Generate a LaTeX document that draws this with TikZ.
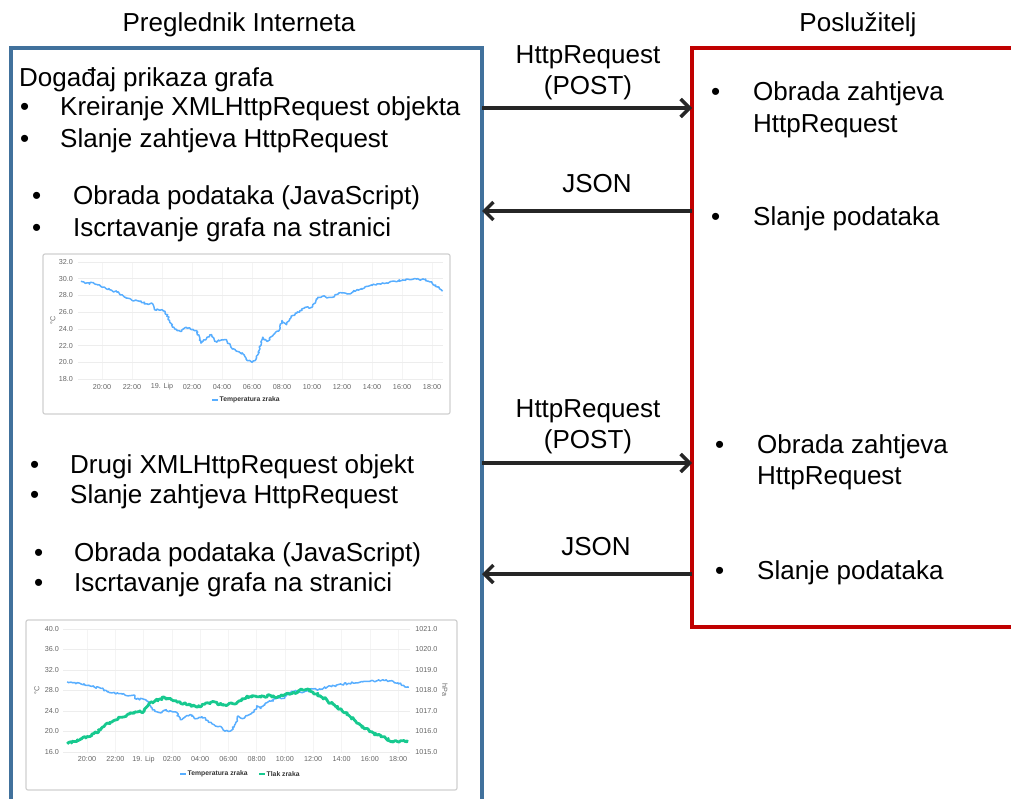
\documentclass[tikz,border=0pt]{standalone}
\usepackage{fontspec}
\setmainfont{Liberation Sans}
\usetikzlibrary{arrows.meta,decorations.pathmorphing}
\definecolor{boxblue}{HTML}{41719C}
\definecolor{boxred}{HTML}{C00000}
\definecolor{arrowc}{HTML}{262626}
\definecolor{tblue}{HTML}{58AEFF}
\definecolor{pgreen}{HTML}{17C98F}
\definecolor{gridc}{HTML}{EDEDED}
\definecolor{vgridc}{HTML}{F4F4F4}
\definecolor{ticklab}{HTML}{666666}
\definecolor{leglab}{HTML}{333333}
\definecolor{framec}{HTML}{D0D0D0}
\begin{document}
\begin{tikzpicture}[x=1pt,y=-1pt,
  big/.style={font=\fontsize{26}{31}\selectfont, inner sep=0pt, anchor=base west},
  head/.style={font=\fontsize{26}{31}\selectfont, inner sep=0pt, anchor=base},
  flow/.style={line width=3.5pt, draw=arrowc, -{Straight Barb[length=9pt,width=18pt]}},
  tick/.style={font=\fontsize{7.2}{8}\selectfont, text=ticklab, inner sep=0pt},
  legtext/.style={font=\bfseries\fontsize{6.8}{8}\selectfont, text=leglab, inner sep=0pt, anchor=west},
  chartframe/.style={draw=framec, line width=1.2pt, rounded corners=2pt},
  tline/.style={draw=tblue, line width=1.5pt, line join=round, decorate, decoration={random steps, segment length=1.4pt, amplitude=1.0pt}},
  pline/.style={draw=pgreen, line width=2.8pt, line join=round, decorate, decoration={random steps, segment length=1.3pt, amplitude=1.3pt}},
]
\useasboundingbox (0,0) rectangle (1011,798);
\clip (0,0) rectangle (1011,798);

% ---- boxes ----
\draw[boxblue, line width=3.5pt] (11,810) -- (11,48) -- (482,48) -- (482,810);
\draw[boxred, line width=3.5pt] (1020,48) -- (692,48) -- (692,627) -- (1020,627);

% ---- headers ----
\node[head] (hdrL) at (239,31) {Preglednik Interneta};
\node[head] (hdrR) at (858,31) {Poslužitelj};

% ---- left box texts ----
\node[big] (ev) at (19,86) {Događaj prikaza grafa};
\node[big] (b1) at (20,115) {•};
\node[big] (t1) at (60,115) {Kreiranje XMLHttpRequest objekta};
\node[big] (b2) at (20,147) {•};
\node[big] (t2) at (60,147) {Slanje zahtjeva HttpRequest};
\node[big] (b3) at (32,204) {•};
\node[big] (t3) at (73,204) {Obrada podataka (JavaScript)};
\node[big] (b4) at (32,236) {•};
\node[big] (t4) at (73,236) {Iscrtavanje grafa na stranici};

\node[big] (b5) at (30,473) {•};
\node[big] (t5) at (70,473) {Drugi XMLHttpRequest objekt};
\node[big] (b6) at (30,503) {•};
\node[big] (t6) at (70,503) {Slanje zahtjeva HttpRequest};
\node[big] (b7) at (34,561) {•};
\node[big] (t7) at (74,561) {Obrada podataka (JavaScript)};
\node[big] (b8) at (34,591) {•};
\node[big] (t8) at (74,591) {Iscrtavanje grafa na stranici};

% ---- right box texts ----
\node[big] (rb1) at (711,100) {•};
\node[big] (r1) at (753,100) {Obrada zahtjeva};
\node[big] (r1b) at (753,132) {HttpRequest};
\node[big] (rb2) at (711,225) {•};
\node[big] (r2) at (753,225) {Slanje podataka};
\node[big] (rb3) at (715,453) {•};
\node[big] (r3) at (757,453) {Obrada zahtjeva};
\node[big] (r3b) at (757,484) {HttpRequest};
\node[big] (rb4) at (715,579) {•};
\node[big] (r4) at (757,579) {Slanje podataka};

% ---- connectors ----
\coordinate (a1s) at (482,108); \coordinate (a1e) at (692,108);
\coordinate (a2s) at (692,211); \coordinate (a2e) at (482,211);
\coordinate (a3s) at (482,463); \coordinate (a3e) at (692,463);
\coordinate (a4s) at (692,574); \coordinate (a4e) at (482,574);
\draw[flow] (a1s) -- (a1e);
\draw[flow] (a2s) -- (a2e);
\draw[flow] (a3s) -- (a3e);
\draw[flow] (a4s) -- (a4e);
\node[head] (l1a) at (588,63) {HttpRequest};
\node[head] (l1b) at (588,94) {(POST)};
\node[head] (l2) at (597,192) {JSON};
\node[head] (l3a) at (588,417) {HttpRequest};
\node[head] (l3b) at (588,448) {(POST)};
\node[head] (l4) at (596,555) {JSON};

% ---- chart 1 ----
\draw[chartframe] (43,254) rectangle (450,414);
\begin{scope}[shift={(102,379)}, x=15pt, y=8.357pt]
  \foreach \t in {0,2,...,22} \draw[vgridc, line width=0.6pt] (\t,0) -- (\t,14);
  \foreach \v in {18,20,...,32} {
    \draw[gridc, line width=0.7pt] (-1.6,\v-18) -- (22.7,\v-18);
    \node[tick, anchor=east] at (-1.93,\v-18) {\v.0};
  }
  \foreach \t/\lab in {0/20:00,2/22:00,4/19. Lip,6/02:00,8/04:00,10/06:00,12/08:00,14/10:00,16/12:00,18/14:00,20/16:00,22/18:00}
    \node[tick] at (\t,-0.95) {\lab};
  \draw[tline] plot coordinates {(-1.4,11.7) (-1,11.5) (-0.5,11.4) (0,11.0) (0.5,10.7) (1,10.4) (1.5,9.8) (2,9.4) (2.5,9.3) (3,9.0) (3.3,9.1) (3.5,8.3) (4,8.3) (4.2,8.1) (4.5,7.0) (4.7,6.2) (5,5.8) (5.3,5.7) (5.6,6.2) (6,5.9) (6.3,5.8) (6.6,4.3) (7,5.0) (7.3,5.3) (7.6,4.5) (8,4.7) (8.3,4.7) (8.6,3.8) (9,3.3) (9.4,3.0) (9.7,2.2) (10,2.0) (10.2,2.2) (10.5,3.5) (10.7,5.0) (11,4.5) (11.4,5.2) (11.8,5.8) (12,7.0) (12.3,6.5) (12.6,7.5) (13,7.9) (13.5,8.5) (14,8.6) (14.3,9.6) (14.7,9.9) (15,9.7) (15.4,9.8) (15.8,10.3) (16,10.3) (16.5,10.2) (17,10.7) (17.5,10.9) (18,11.2) (18.5,11.4) (19,11.5) (19.5,11.7) (20,11.8) (20.5,11.9) (21,11.95) (21.5,11.9) (22,11.5) (22.4,11.0) (22.7,10.5)};
\end{scope}
\node[font=\fontsize{7.2}{8}\selectfont, text=ticklab, rotate=90] (c1y) at (53,320) {°C};
\draw[tblue, line width=1.5pt] (212,400) -- (218,400);
\node[legtext] (c1leg) at (219.5,400) {Temperatura zraka};

% ---- chart 2 ----
\draw[chartframe] (26,620) rectangle (457,790);
\begin{scope}[shift={(87,752)}, x=14.14pt, y=5.125pt]
  \foreach \t in {0,2,...,22} \draw[vgridc, line width=0.6pt] (\t,0) -- (\t,24);
  \foreach \v/\p in {16/1015,20/1016,24/1017,28/1018,32/1019,36/1020,40/1021} {
    \draw[gridc, line width=0.7pt] (-1.7,\v-16) -- (22.84,\v-16);
    \node[tick, anchor=east] at (-1.98,\v-16) {\v.0};
    \node[tick, anchor=west] at (23.2,\v-16) {\p.0};
  }
  \foreach \t/\lab in {0/20:00,2/22:00,4/19. Lip,6/02:00,8/04:00,10/06:00,12/08:00,14/10:00,16/12:00,18/14:00,20/16:00,22/18:00}
    \node[tick] at (\t,-1.45) {\lab};
  \draw[tline] plot coordinates {(-1.4,13.7) (-1,13.5) (-0.5,13.4) (0,13.0) (0.5,12.7) (1,12.4) (1.5,11.8) (2,11.4) (2.5,11.3) (3,11.0) (3.3,11.1) (3.5,10.3) (4,10.3) (4.2,10.1) (4.5,9.0) (4.7,8.2) (5,7.8) (5.3,7.7) (5.6,8.2) (6,7.9) (6.3,7.8) (6.6,6.3) (7,7.0) (7.3,7.3) (7.6,6.5) (8,6.7) (8.3,6.7) (8.6,5.8) (9,5.3) (9.4,5.0) (9.7,4.2) (10,4.0) (10.2,4.2) (10.5,5.5) (10.7,7.0) (11,6.5) (11.4,7.2) (11.8,7.8) (12,9.0) (12.3,8.5) (12.6,9.5) (13,9.9) (13.5,10.5) (14,10.6) (14.3,11.6) (14.7,11.9) (15,11.7) (15.4,11.8) (15.8,12.3) (16,12.3) (16.5,12.2) (17,12.7) (17.5,12.9) (18,13.2) (18.5,13.4) (19,13.5) (19.5,13.7) (20,13.8) (20.5,13.9) (21,13.95) (21.5,13.9) (22,13.5) (22.4,13.0) (22.7,12.5)};
\end{scope}
\begin{scope}[shift={(87,752)}, x=14.14pt, y=20.5pt]
  \draw[pline] plot coordinates {(-1.4,0.4) (-0.5,0.6) (0,0.75) (0.5,0.9) (1,1.1) (1.5,1.4) (2,1.56) (2.5,1.7) (3,1.85) (3.5,1.95) (4,1.97) (4.3,2.25) (4.6,2.45) (5,2.55) (5.5,2.65) (6,2.55) (6.5,2.45) (7,2.35) (7.5,2.25) (8,2.2) (8.5,2.4) (9,2.45) (9.5,2.3) (10,2.33) (10.5,2.35) (11,2.6) (11.5,2.7) (12,2.7) (12.5,2.72) (13,2.75) (13.5,2.7) (14,2.8) (14.5,2.85) (15,3.0) (15.5,3.05) (16,2.9) (16.5,2.75) (17,2.5) (17.5,2.3) (18,2.05) (18.5,1.8) (19,1.5) (19.5,1.25) (20,1.0) (20.5,0.85) (21,0.75) (21.5,0.5) (22,0.5) (22.7,0.5)};
\end{scope}
\node[font=\fontsize{7.2}{8}\selectfont, text=ticklab, rotate=90] (c2y) at (37,690) {°C};
\node[font=\fontsize{7.2}{8}\selectfont, text=ticklab, rotate=-90] (c2p) at (445,690) {hPa};
\draw[tblue, line width=1.5pt] (180,774) -- (186,774);
\node[legtext] (c2leg1) at (187.5,774) {Temperatura zraka};
\draw[pgreen, line width=1.5pt] (259,774) -- (265,774);
\node[legtext] (c2leg2) at (266.5,774) {Tlak zraka};
\end{tikzpicture}
\end{document}
